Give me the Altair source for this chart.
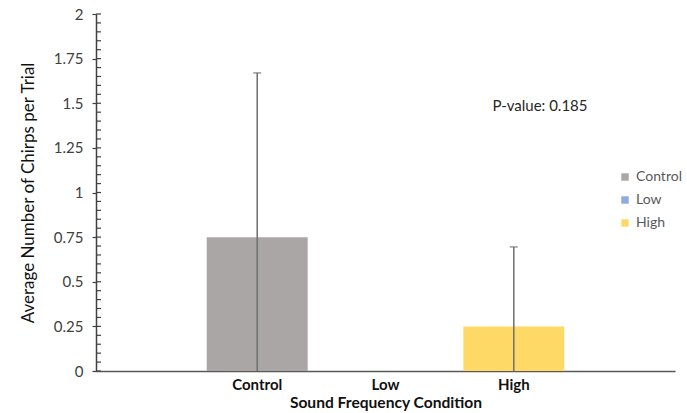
import altair as alt
import pandas as pd

categories = ["Control", "Low", "High"]
means = [0.75, 0.0, 0.25]
err = [0.92, 0.0, 0.445]
colors = ["#ABA6A6", "#8FAADC", "#FFD966"]
major_ticks = [0, 0.25, 0.5, 0.75, 1, 1.25, 1.5, 1.75, 2]
minor_ticks = [round(i * 0.05, 2) for i in range(41)]
annotation = "P-value: 0.185"

df = pd.DataFrame({"cond": categories, "mean": means, "err": err})
df["lo"] = df["mean"] - df["err"]
df["hi"] = df["mean"] + df["err"]

FONT = "Lato"

xscale = alt.Scale(domain=categories, paddingInner=0.213, paddingOuter=0.863)
yscale = alt.Scale(domain=[0, 2], nice=False, zero=True)

base = alt.Chart(df)

bars = base.mark_bar().encode(
    x=alt.X("cond:N", scale=xscale, sort=categories,
            axis=alt.Axis(title="Sound Frequency Condition", labelAngle=0, ticks=False,
                          domainColor="#595959", domainWidth=1.5,
                          labelFont=FONT, labelFontSize=15, labelFontWeight="bold",
                          labelColor="#111111", labelPadding=6,
                          titleFont=FONT, titleFontSize=15.6, titleFontWeight="bold",
                          titleColor="#111111", titlePadding=3)),
    y=alt.Y("mean:Q", scale=yscale,
            axis=alt.Axis(title="Average Number of Chirps per Trial", values=major_ticks,
                          format=".2~f",
                          grid=False, tickSize=4, tickColor="#404040", tickWidth=1.2,
                          domainColor="#404040", domainWidth=1.5,
                          labelFont=FONT, labelFontSize=15, labelColor="#404040",
                          labelPadding=9,
                          titleFont=FONT, titleFontSize=17, titleFontWeight="normal",
                          titleColor="#111111", titlePadding=16)),
    color=alt.Color("cond:N", scale=alt.Scale(domain=categories, range=colors),
                    legend=alt.Legend(title=None, orient="none", legendX=522, legendY=156,
                                      symbolType="square", symbolSize=55,
                                      symbolStrokeWidth=0,
                                      labelFont=FONT, labelFontSize=14,
                                      labelColor="#595959", rowPadding=9,
                                      labelOffset=4)),
)

minor = alt.Chart(pd.DataFrame({"v": minor_ticks})).mark_rule(
    color="#404040", strokeWidth=1.2
).encode(
    y=alt.Y("v:Q", scale=yscale),
    x=alt.value(0),
    x2=alt.value(5),
)

ebase = base.transform_filter("datum.err > 0")
rules = ebase.mark_rule(color="#6E6E6E", strokeWidth=1.5, clip=True).encode(
    x=alt.X("cond:N", scale=xscale, sort=categories),
    y="lo:Q",
    y2="hi:Q",
)
caps = ebase.mark_tick(color="#6E6E6E", size=8, thickness=1.5, orient="horizontal").encode(
    x=alt.X("cond:N", scale=xscale, sort=categories),
    y="hi:Q",
)

note = alt.Chart(pd.DataFrame({"t": [annotation]})).mark_text(
    font=FONT, fontSize=15, color="#262626", align="center", baseline="middle"
).encode(text="t:N", x=alt.value(444), y=alt.value(92))

chart = alt.layer(bars, minor, rules, caps, note).properties(
    width=579, height=357,
    padding={"left": 96, "top": 14, "right": 12, "bottom": 42},
    autosize=alt.AutoSizeParams(type="none"),
).configure(background="white").configure_view(stroke=None)

chart.save("out.html", embed_options={"renderer": "svg", "actions": False})
